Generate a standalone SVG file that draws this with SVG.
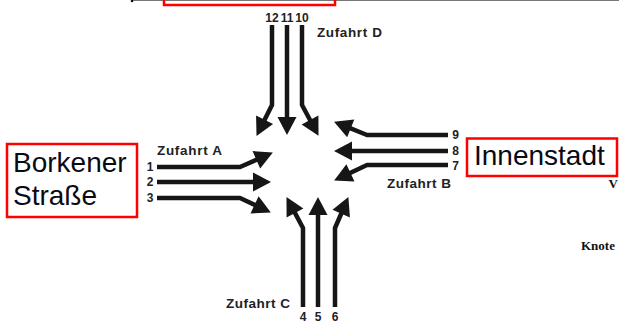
<svg xmlns="http://www.w3.org/2000/svg" width="619" height="322" viewBox="0 0 619 322">
<style>
.lane{fill:none;stroke:#161616;stroke-width:4.5;stroke-linejoin:round;stroke-linecap:butt}
.zuf{font-family:"Liberation Sans",Arial,sans-serif;font-weight:bold;font-size:13.5px;fill:#222}
.num{font-family:"Liberation Sans",Arial,sans-serif;font-weight:bold;font-size:12px;fill:#222}
.box{fill:none;stroke:#ff0000;stroke-width:2.5}
.big{font-family:"Liberation Sans",Arial,sans-serif;font-size:28px;fill:#0a0a14}
.ser{font-family:"Liberation Serif","Times New Roman",serif;font-weight:bold;font-size:13px;fill:#111}
</style>
<defs>
<marker id="ah" markerUnits="userSpaceOnUse" viewBox="-1 -11 20 22" markerWidth="20" markerHeight="22" refX="8" refY="0" orient="auto">
<path d="M0,-9.5 L18,0 L0,9.5 Z" fill="#161616"/>
</marker>
</defs>
<rect width="619" height="322" fill="#fff"/>
<g id="topframe">
<line x1="132" y1="0.5" x2="619" y2="0.5" stroke="#777" stroke-width="1.2"/>
<circle cx="132" cy="1" r="1.3" fill="#111"/>
<rect class="box" x="164" y="-20" width="171" height="25"/>
</g>
<g id="connectors">
<path class="lane" d="M272,25 V105 L261,127" marker-end="url(#ah)"/>
<path class="lane" d="M287,25 V125" marker-end="url(#ah)"/>
<path class="lane" d="M302,25 V105 L313.8,127" marker-end="url(#ah)"/>
<path class="lane" d="M157,167 H240 L263.7,156.6" marker-end="url(#ah)"/>
<path class="lane" d="M157,182 H261" marker-end="url(#ah)"/>
<path class="lane" d="M157,198 H240 L261.8,208.2" marker-end="url(#ah)"/>
<path class="lane" d="M448,135 H367 L343.3,125.4" marker-end="url(#ah)"/>
<path class="lane" d="M448,151 H344" marker-end="url(#ah)"/>
<path class="lane" d="M448,165 H367 L343.2,176.2" marker-end="url(#ah)"/>
<path class="lane" d="M303,307 V228 L291.2,205.9" marker-end="url(#ah)"/>
<path class="lane" d="M318,307 V207" marker-end="url(#ah)"/>
<path class="lane" d="M335,307 V228 L344.4,206.3" marker-end="url(#ah)"/>
</g>
<g id="zufahrtD">
<text class="num" x="272" y="22" text-anchor="middle">12</text>
<text class="num" x="287" y="22" text-anchor="middle">11</text>
<text class="num" x="302" y="22" text-anchor="middle">10</text>
<text class="zuf" x="317" y="37" textLength="65" lengthAdjust="spacing">Zufahrt D</text>
</g>
<g id="zufahrtA">
<text class="zuf" x="157" y="155" textLength="65" lengthAdjust="spacing">Zufahrt A</text>
<text class="num" x="150" y="171" text-anchor="middle">1</text>
<text class="num" x="150" y="186" text-anchor="middle">2</text>
<text class="num" x="150" y="202" text-anchor="middle">3</text>
</g>
<g id="zufahrtB">
<text class="num" x="455.5" y="139" text-anchor="middle">9</text>
<text class="num" x="455.5" y="155" text-anchor="middle">8</text>
<text class="num" x="455.5" y="170" text-anchor="middle">7</text>
<text class="zuf" x="387" y="188" textLength="64" lengthAdjust="spacing">Zufahrt B</text>
</g>
<g id="zufahrtC">
<text class="zuf" x="226" y="308" textLength="64" lengthAdjust="spacing">Zufahrt C</text>
<text class="num" x="303" y="320.5" text-anchor="middle">4</text>
<text class="num" x="318" y="320.5" text-anchor="middle">5</text>
<text class="num" x="335" y="320.5" text-anchor="middle">6</text>
</g>
<g id="borkener">
<rect class="box" x="7" y="144" width="130" height="73"/>
<text class="big" x="13" y="172">Borkener</text>
<text class="big" x="13" y="205">Straße</text>
</g>
<g id="innenstadt">
<rect class="box" x="467" y="138.5" width="150" height="37.5"/>
<text class="big" x="474" y="165">Innenstadt</text>
</g>
<g id="sidetext">
<text class="ser" x="608.5" y="188">V</text>
<text class="ser" x="581" y="250">Knote</text>
</g>
</svg>
